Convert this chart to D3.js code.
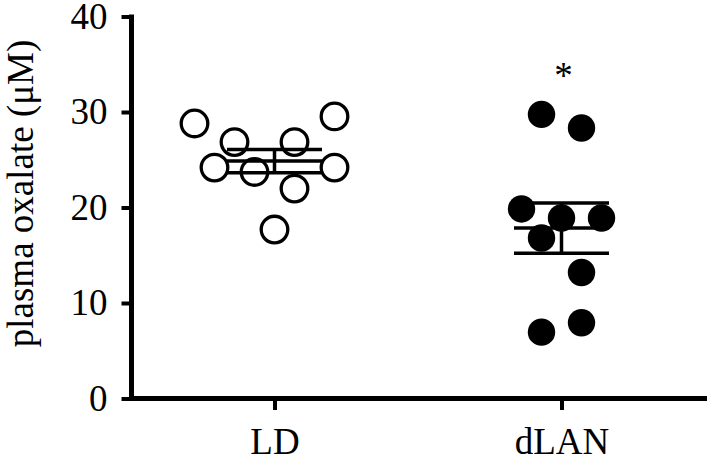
<!DOCTYPE html>
<html>
<head>
<meta charset="utf-8">
<script src="https://cdn.jsdelivr.net/npm/d3@7"></script>
<style>
  html, body { margin: 0; padding: 0; background: #fff; }
  svg { display: block; }
  text { font-family: "Liberation Serif", "Times New Roman", serif; fill: #000; }
</style>
</head>
<body>
<svg id="chart" width="707" height="463"></svg>
<script>
// ---- data ----
const categories = ["LD", "dLAN"];
const ldValues   = [28.8, 26.85, 26.85, 29.54, 24.18, 23.72, 24.18, 21.98, 17.69];
const ldColumns  = [-4, -2, 1, 3, -3, -1, 3, 1, 0];
const dlanValues = [29.75, 28.32, 19.85, 18.9, 18.9, 16.8, 13.2, 7.93, 6.95];
const dlanColumns= [-1, 1, -2, 0, 2, -1, 1, 1, -1];
const yTicks = [0, 10, 20, 30, 40];
const yLabel = "plasma oxalate (\u03BCM)";
const significance = [{ group: "dLAN", label: "*", value: 32.5 }];

// ---- layout ----
const W = 707, H = 463;
const svg = d3.select("#chart");
const FONT = 37;

const x = d3.scalePoint().domain(categories).range([131, 705]).padding(0.5);
const y = d3.scaleLinear().domain([0, 40]).range([398.5, 16.5]);
const colStep = 20;

const groups = [
  { name: "LD", values: ldValues, cols: ldColumns, filled: false },
  { name: "dLAN", values: dlanValues, cols: dlanColumns, filled: true }
];

// axes
const yAxis = d3.axisLeft(y).tickValues(yTicks).tickSize(10).tickSizeOuter(0).tickPadding(14);
const gy = svg.append("g").attr("transform", "translate(131.5,0)").call(yAxis);
gy.select(".domain").attr("stroke-width", 5).attr("stroke", "#000")
  .attr("d", `M0,${y(0) + 2.5}V${y(40) - 2}`);
gy.selectAll(".tick line").attr("stroke-width", 4).attr("stroke", "#000");
gy.selectAll(".tick text").style("font-size", FONT + "px")
  .style("font-family", '"Liberation Serif", serif').attr("fill", "#000");

const xAxis = d3.axisBottom(x).tickSize(11.5).tickSizeOuter(0).tickPadding(18);
const gx = svg.append("g").attr("transform", `translate(0,${y(0)})`).call(xAxis);
gx.select(".domain").attr("stroke-width", 5).attr("stroke", "#000")
  .attr("d", `M${131.5 - 2.5},0H${W}`);
gx.selectAll(".tick line").attr("stroke-width", 4).attr("stroke", "#000");
gx.selectAll(".tick text").style("font-size", FONT + "px")
  .style("font-family", '"Liberation Serif", serif').attr("fill", "#000");

// y label
svg.append("text")
  .attr("transform", `translate(33,193.5) rotate(-90)`)
  .attr("text-anchor", "middle")
  .style("font-size", FONT + "px")
  .text(yLabel);

// error bars (mean ± SEM)
const halfW = 47.5;
groups.forEach(g => {
  const m = d3.mean(g.values);
  const sem = d3.deviation(g.values) / Math.sqrt(g.values.length);
  const cx = x(g.name);
  const eb = svg.append("g").attr("stroke", "#000").attr("stroke-width", 3.5);
  [m + sem, m, m - sem].forEach(v => {
    eb.append("line").attr("x1", cx - halfW).attr("x2", cx + halfW)
      .attr("y1", y(v)).attr("y2", y(v));
  });
  eb.append("line").attr("x1", cx).attr("x2", cx)
    .attr("y1", y(m + sem)).attr("y2", y(m - sem));
});

// points
groups.forEach(g => {
  svg.append("g").selectAll("circle")
    .data(g.values.map((v, i) => ({ v, c: g.cols[i] })))
    .join("circle")
    .attr("cx", d => x(g.name) + d.c * colStep)
    .attr("cy", d => y(d.v))
    .attr("r", g.filled ? 13.7 : 13.3)
    .attr("fill", g.filled ? "#000" : "none")
    .attr("stroke", g.filled ? "none" : "#000")
    .attr("stroke-width", g.filled ? 0 : 3.3);
});

// significance
svg.append("g").selectAll("text")
  .data(significance)
  .join("text")
  .attr("x", d => x(d.group) + 2)
  .attr("y", d => y(d.value))
  .attr("text-anchor", "middle")
  .style("font-size", FONT + "px")
  .text(d => d.label);
</script>
</body>
</html>
